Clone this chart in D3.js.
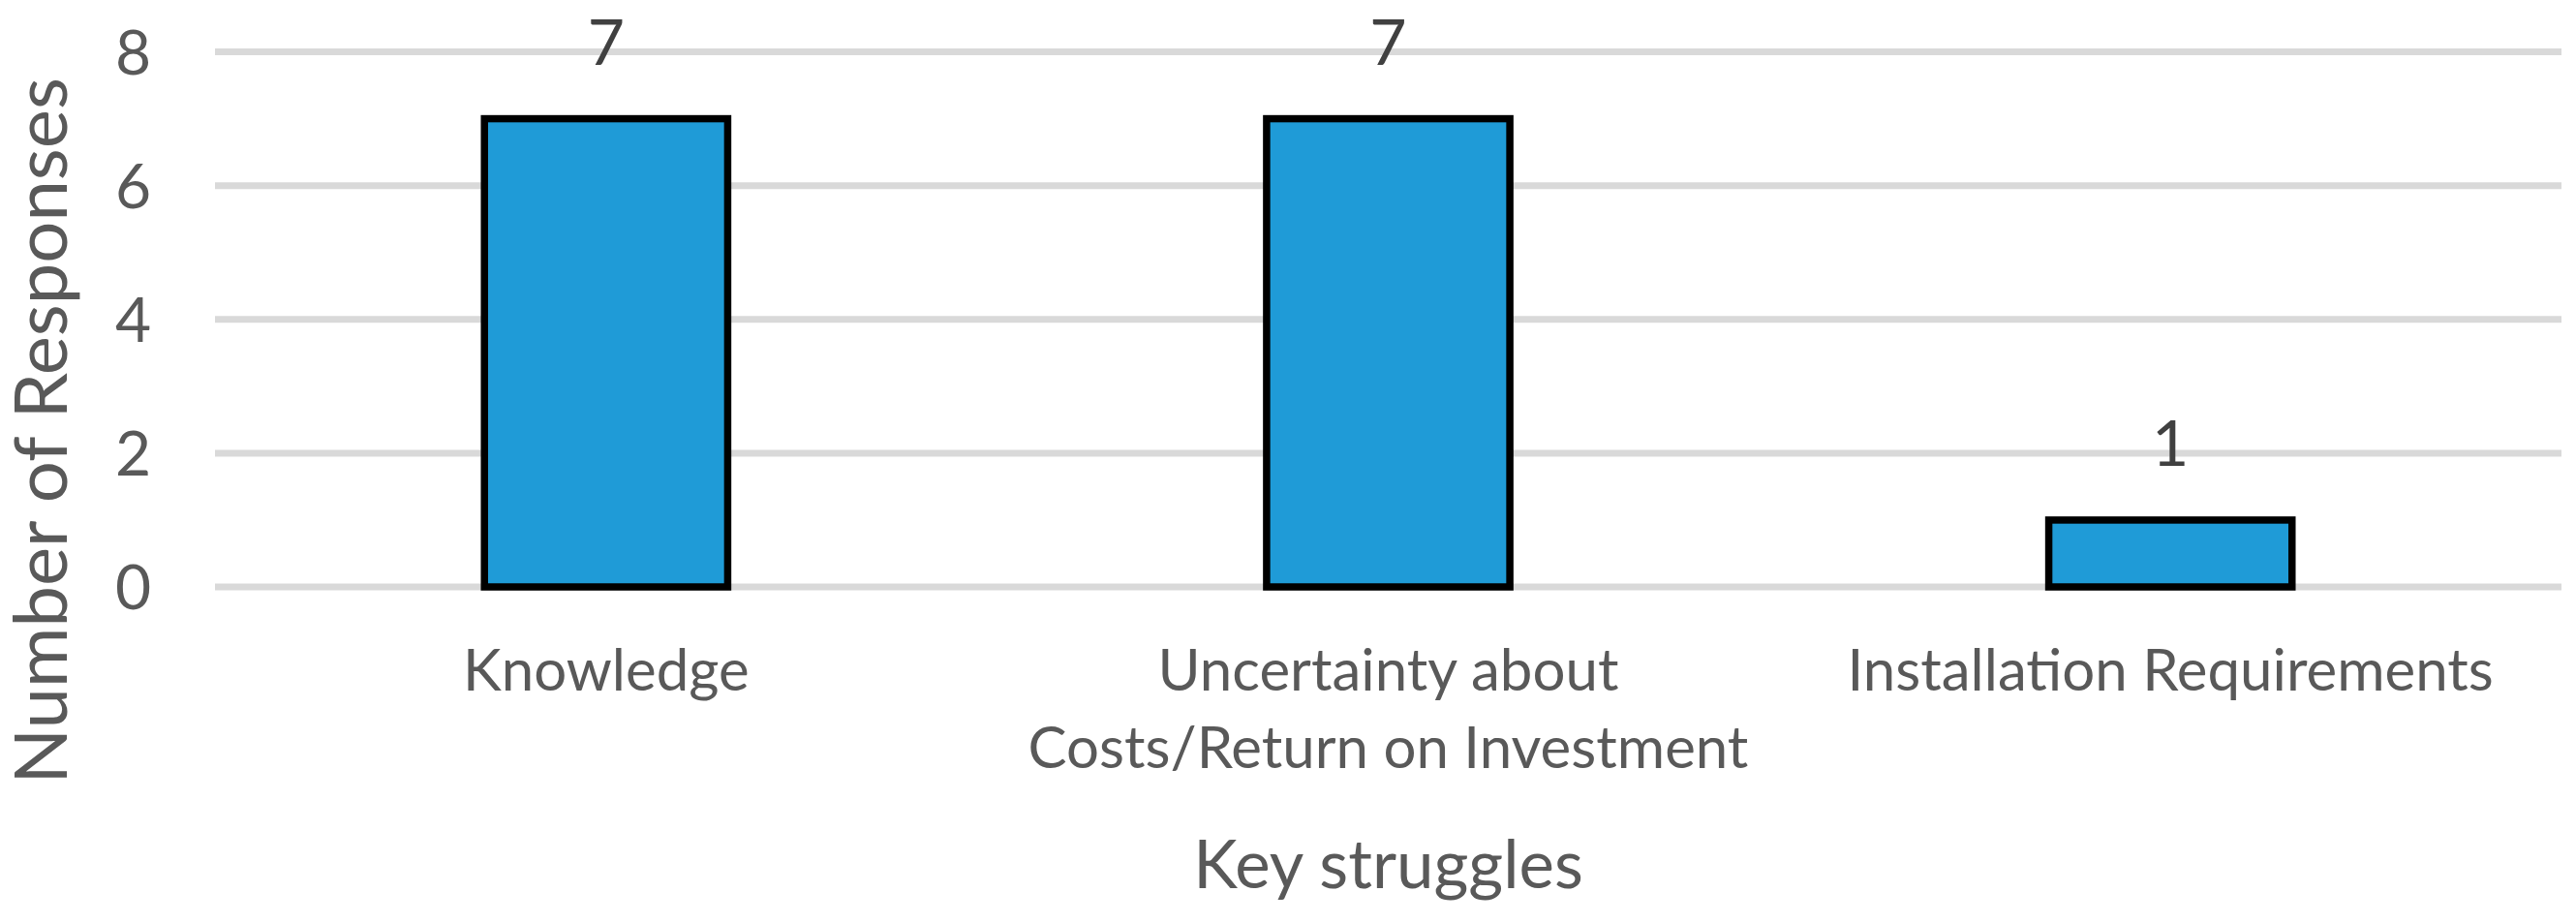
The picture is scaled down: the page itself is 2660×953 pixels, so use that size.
<!DOCTYPE html>
<html>
<head>
<meta charset="utf-8">
<script src="https://cdn.jsdelivr.net/npm/d3@7"></script>
<style>
  html, body { margin: 0; padding: 0; background: #ffffff; }
  svg { display: block; }
  text { font-family: Lato, "Open Sans", "Noto Sans", sans-serif; }
</style>
</head>
<body>
<svg id="chart" width="2660" height="953"></svg>
<script>
// ---- data ----
const categories = ["Knowledge", "Uncertainty about Costs/Return on Investment", "Installation Requirements"];
const values = [7, 7, 1];
const yTicks = [0, 2, 4, 6, 8];
const xTitle = "Key struggles";
const yTitle = "Number of Responses";

// ---- layout ----
const plotLeft = 222, plotRight = 2645;
const yTop = 53.5, yBottom = 606;

const svg = d3.select("#chart");

const x = d3.scaleBand()
  .domain(categories)
  .range([plotLeft, plotRight])
  .paddingInner(0.689)
  .paddingOuter(0.3445);

const y = d3.scaleLinear().domain([0, 8]).range([yBottom, yTop]);

// gridlines
svg.append("g").selectAll("line")
  .data(yTicks)
  .join("line")
  .attr("x1", plotLeft).attr("x2", plotRight)
  .attr("y1", d => y(d)).attr("y2", d => y(d))
  .attr("stroke", "#d9d9d9")
  .attr("stroke-width", 7);

// y tick labels
svg.append("g").selectAll("text")
  .data(yTicks)
  .join("text")
  .attr("x", 156)
  .attr("y", d => y(d) + 23)
  .attr("text-anchor", "end")
  .attr("font-size", 64)
  .attr("fill", "#595959")
  .text(d => d);

// bars
svg.append("g").selectAll("rect")
  .data(values)
  .join("rect")
  .attr("x", (d, i) => x(categories[i]))
  .attr("width", x.bandwidth())
  .attr("y", d => y(d))
  .attr("height", d => y(0) - y(d))
  .attr("fill", "#1f9bd7")
  .attr("stroke", "#000000")
  .attr("stroke-width", 7.5);

// value labels
svg.append("g").selectAll("text")
  .data(values)
  .join("text")
  .attr("x", (d, i) => x(categories[i]) + x.bandwidth() / 2)
  .attr("y", d => y(d) - 56)
  .attr("text-anchor", "middle")
  .attr("font-size", 66)
  .attr("fill", "#404040")
  .text(d => d);

// category labels with wrapping
const catFont = 60;
const measure = svg.append("text").attr("font-size", catFont).attr("visibility", "hidden");
function textWidth(s) { measure.text(s); return measure.node().getComputedTextLength(); }
function wrap(s, maxW) {
  const words = s.split(" ");
  const lines = [];
  let cur = "";
  words.forEach(w => {
    const t = cur ? cur + " " + w : w;
    if (cur && textWidth(t) > maxW) { lines.push(cur); cur = w; } else { cur = t; }
  });
  if (cur) lines.push(cur);
  return lines;
}
const catG = svg.append("g");
categories.forEach(c => {
  const lines = wrap(c, x.step() - 10);
  const t = catG.append("text")
    .attr("text-anchor", "middle")
    .attr("font-size", catFont)
    .attr("fill", "#595959");
  lines.forEach((ln, k) => {
    t.append("tspan")
      .attr("x", x(c) + x.bandwidth() / 2)
      .attr("y", 713 + k * 80)
      .text(ln);
  });
});
measure.remove();

// x axis title
svg.append("text")
  .attr("x", (plotLeft + plotRight) / 2)
  .attr("y", 917)
  .attr("text-anchor", "middle")
  .attr("font-size", 69)
  .attr("fill", "#595959")
  .text(xTitle);

// y axis title (rotated)
svg.append("text")
  .attr("transform", `translate(69,445) rotate(-90)`)
  .attr("text-anchor", "middle")
  .attr("font-size", 76)
  .attr("fill", "#595959")
  .text(yTitle);
</script>
</body>
</html>
